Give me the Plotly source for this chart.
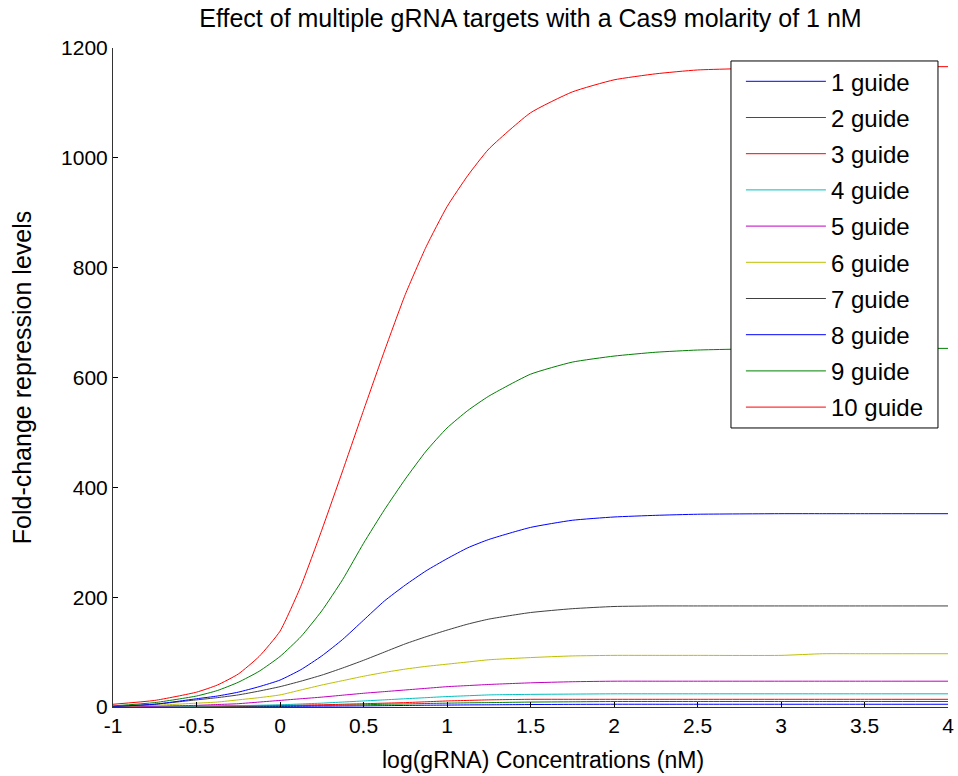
import plotly.graph_objects as go

# log(gRNA) concentration sample points
x_vals = [-1, -0.75, -0.5, -0.375, -0.25, -0.125, 0, 0.125, 0.25, 0.375, 0.5, 0.625, 0.75,
          0.875, 1, 1.125, 1.25, 1.5, 1.75, 2, 2.25, 2.5, 3, 3.25, 3.5, 4]

guide1 = [0.3, 0.5, 0.7, 0.8, 0.9, 1, 1, 1.3, 1.6, 1.8, 2, 2.4, 2.8, 3.2, 3.5, 3.8, 4, 4.5, 4.8, 5, 5, 5, 5, 5, 5, 5]
guide2 = [0.5, 0.8, 1, 1.2, 1.5, 1.8, 2, 2.5, 3, 3.5, 4, 5, 5.5, 6.3, 7, 7.6, 8, 9, 9.5, 10, 10, 10, 10, 10, 10, 10]
guide3 = [0.5, 0.8, 1, 1.5, 2, 2.5, 3, 3.5, 4, 5, 6, 7, 8, 9.5, 11, 12, 13, 14, 14, 14, 14, 14, 14, 14, 14, 14]
guide4 = [0.5, 1, 1.5, 2, 2.5, 3.2, 4, 5.5, 7, 9, 11, 13, 15, 17, 19, 20.5, 22, 23, 23.5, 24, 24, 24, 24, 24, 24, 24]
guide5 = [0.5, 1.5, 3, 4.5, 6, 9, 12, 15, 18, 21.5, 25, 28, 31, 34, 37, 39, 41, 44, 46, 47, 47, 47, 47, 47, 47, 47]
guide6 = [1, 3, 7, 9, 13, 17, 22, 31, 40, 48, 56, 63, 69, 74, 78, 82, 86, 90, 93, 94, 94, 94, 94, 97, 97, 97]
guide7 = [1, 5, 13, 17, 22, 29, 37, 47, 58, 71, 85, 100, 115, 128, 140, 151, 160, 172, 179, 183, 184, 184, 184, 184, 184, 184]
guide8 = [1, 5, 15, 20, 27, 37, 49, 68, 93, 123, 158, 193, 222, 248, 270, 290, 305, 327, 340, 346, 349, 351, 352, 352, 352, 352]
guide9 = [2, 8, 20, 30, 45, 65, 92, 128, 175, 232, 298, 359, 415, 466, 508, 540, 566, 606, 628, 639, 646, 650, 653, 653, 653, 653]
guide10 = [5, 12, 27, 40, 60, 92, 138, 220, 322, 430, 540, 648, 751, 838, 911, 968, 1016, 1082, 1120, 1142, 1153, 1160, 1164, 1165, 1166, 1166]

series = [guide1, guide2, guide3, guide4, guide5, guide6, guide7, guide8, guide9, guide10]
names = ["1 guide", "2 guide", "3 guide", "4 guide", "5 guide",
         "6 guide", "7 guide", "8 guide", "9 guide", "10 guide"]
colors = ["#0000ff", "#008000", "#ff0000", "#00bfbf", "#bf00bf",
          "#bfbf00", "#404040", "#0000ff", "#008000", "#ff0000"]

x_ticks = [-1, -0.5, 0, 0.5, 1, 1.5, 2, 2.5, 3, 3.5, 4]
x_tick_text = ["-1", "-0.5", "0", "0.5", "1", "1.5", "2", "2.5", "3", "3.5", "4"]
y_ticks = [0, 200, 400, 600, 800, 1000, 1200]

fig = go.Figure()
for ys, nm, c in zip(series, names, colors):
    fig.add_trace(go.Scatter(x=x_vals, y=ys, mode="lines", name=nm,
                             legendgroup=nm,
                             line=dict(color=c, width=1, shape="spline", smoothing=0.5)))

font_family = "Liberation Sans, Arial, sans-serif"

# legend frame (white box drawn over the curves, like the MATLAB legend)
fig.add_shape(type="rect", xref="paper", yref="paper",
              x0=0.7401, x1=0.9880, y0=0.4234, y1=0.9803,
              line=dict(color="black", width=1), fillcolor="white", layer="above")

# x-axis title
fig.add_annotation(text="log(gRNA) Concentrations (nM)", xref="paper", yref="paper",
                   x=0.515, y=-0.080, xanchor="center", yanchor="middle",
                   showarrow=False, font=dict(family=font_family, size=23, color="black"))

fig.update_layout(
    width=958, height=776,
    margin=dict(l=113, r=10, t=48, b=69),
    paper_bgcolor="white", plot_bgcolor="white",
    title=dict(text="Effect of multiple gRNA targets with a Cas9 molarity of 1 nM",
               xref="paper", x=0.5, xanchor="center", y=0.977, yanchor="middle",
               font=dict(family=font_family, size=25, color="black")),
    font=dict(family=font_family, size=21, color="black"),
    showlegend=True,
    legend=dict(x=0.752, y=0.983, xanchor="left", yanchor="top",
                bgcolor="rgba(0,0,0,0)", borderwidth=0,
                font=dict(family=font_family, size=24, color="black"),
                tracegroupgap=2, itemwidth=80),
    xaxis=dict(range=[-1, 4], tickvals=x_ticks, ticktext=x_tick_text,
               ticks="inside", ticklen=5, tickcolor="black",
               showline=True, linecolor="#333333", linewidth=1,
               showgrid=False, zeroline=False, automargin=False),
    yaxis=dict(range=[0, 1200], tickvals=y_ticks,
               ticks="inside", ticklen=5, tickcolor="black",
               showline=True, linecolor="#333333", linewidth=1,
               showgrid=False, zeroline=False, automargin=False,
               title=dict(text="Fold-change repression levels", standoff=22,
                          font=dict(family=font_family, size=25))),
)

fig.write_html("out.html")
